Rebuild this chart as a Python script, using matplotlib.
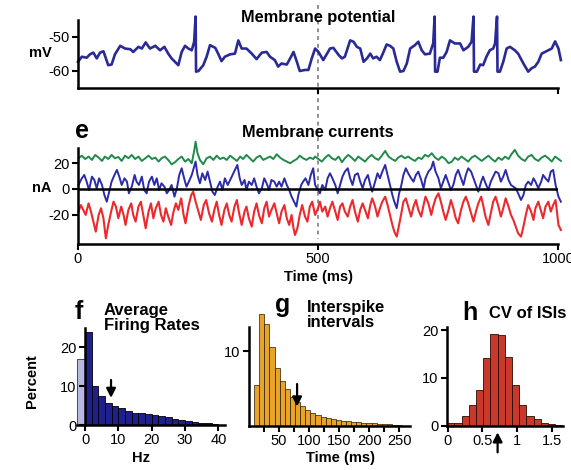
import matplotlib
matplotlib.use('Agg')
import matplotlib.pyplot as plt
from matplotlib.lines import Line2D

plt.rcParams['font.family'] = ['Liberation Sans', 'DejaVu Sans']
plt.rcParams['font.size'] = 10
plt.rcParams['axes.unicode_minus'] = False

# membrane potential (ms, mV)
t_vm = [0, 8, 18, 25, 32, 39, 46, 53, 63, 70, 77, 88, 98, 109, 115, 126, 133, 141, 150, 161,
        171, 180, 188, 195, 202, 209, 216, 223, 230, 237, 242, 245, 246, 251, 261, 268, 275, 286, 292, 299,
        306, 317, 327, 334, 341, 351, 362, 372, 383, 393, 400, 410, 417, 424, 435, 442, 449, 456, 462, 473,
        480, 487, 494, 501, 511, 525, 532, 543, 550, 556, 567, 574, 581, 588, 595, 602, 609, 615, 622, 629,
        636, 643, 650, 657, 664, 671, 678, 685, 692, 702, 709, 716, 723, 733, 740, 743, 744, 749, 754, 761,
        768, 775, 785, 796, 803, 813, 820, 824, 825, 831, 838, 844, 851, 858, 865, 869, 873, 874, 879, 886,
        893, 900, 910, 917, 928, 938, 945, 952, 959, 966, 973, 980, 987, 994, 1001, 1006]
vm = [-57.3, -55.8, -56.1, -55.1, -54.6, -56.3, -54.6, -54.2, -58.3, -58.1,
      -55.1, -52.6, -53.4, -53.6, -54.4, -52.9, -53.4, -51.6, -53.4, -52.6,
      -53.9, -52.9, -54.9, -56.3, -57.3, -58.3, -54.4, -52.6, -53.4, -53.9,
      -51.4, -44.0, -60.2, -60.0, -58.3, -55.8, -52.4, -53.2, -54.9, -57.1,
      -55.8, -55.1, -54.9, -51.0, -53.4, -53.4, -54.9, -56.5, -54.6, -54.4,
      -55.8, -56.8, -58.7, -57.8, -58.1, -56.3, -54.4, -57.3, -60.0, -59.7,
      -59.7, -56.3, -53.4, -54.4, -56.8, -53.4, -53.2, -55.3, -56.3, -55.8,
      -51.0, -51.4, -52.9, -53.4, -57.3, -56.3, -54.9, -56.3, -55.8, -56.8,
      -54.6, -52.2, -52.6, -53.4, -57.3, -60.2, -60.0, -57.8, -53.4, -52.4,
      -51.4, -53.9, -55.1, -54.9, -51.9, -44.0, -60.2, -60.2, -56.1, -56.1,
      -54.4, -51.0, -51.9, -51.9, -53.9, -52.9, -51.4, -44.0, -60.2, -60.2,
      -58.1, -58.3, -55.8, -53.9, -53.4, -51.9, -44.0, -60.2, -60.2, -57.3,
      -53.4, -52.9, -53.9, -54.9, -57.8, -60.2, -59.2, -58.7, -57.3, -54.9,
      -54.4, -53.9, -53.4, -51.3, -53.4, -56.8]

# membrane currents (ms, nA)
t_green = [1, 8, 15, 22, 29, 36, 43, 50, 56, 63, 70, 77, 84, 91, 98, 105, 112, 119, 126, 133,
           140, 147, 154, 161, 168, 174, 181, 188, 195, 202, 209, 216, 223, 230, 237, 242, 245, 249, 254, 261,
           268, 275, 282, 289, 296, 303, 310, 317, 324, 331, 338, 344, 351, 358, 365, 372, 379, 386, 393, 400,
           407, 414, 421, 428, 435, 442, 449, 456, 462, 469, 476, 483, 490,
           494, 501, 508, 515, 522, 529, 536, 543, 550, 556, 563, 570, 577, 584, 591, 598, 605, 612, 619, 626,
           633, 640, 647, 654, 661, 667, 674, 681, 688, 695, 702, 709, 716, 723, 730, 737, 744, 751, 758, 765,
           772, 779, 785, 792, 799, 806, 813, 820, 827, 834, 841, 848, 855, 862, 869, 876, 883, 890, 897, 903,
           910, 917, 924, 931, 938, 945, 952, 959, 966, 973, 980, 987, 994, 1001, 1006]
i_green = [23.9, 25.9, 23.3, 25.2, 22.6, 26.5, 24.4, 21.8, 25.2, 23.3, 26.5, 23.9, 24.9, 21.8, 25.9, 23.9, 26.5, 23.3, 25.2, 21.8,
           23.9, 25.9, 23.3, 24.4, 21.3, 23.9, 25.2, 22.6, 19.2, 20.8, 23.3, 25.2, 21.3, 23.3, 20.0, 29.6, 36.8, 27.8, 22.6, 19.2,
           23.9, 25.2, 22.6, 25.9, 23.3, 24.4, 22.6, 25.9, 23.9, 21.8, 25.2, 23.3, 26.5, 23.9, 21.3, 24.4, 25.9, 22.6, 23.9, 25.2,
           23.3, 27.0, 24.4, 22.6, 21.3, 20.0, 21.8, 23.3, 25.9, 23.9, 22.6, 24.4, 23.3,
           25.2, 23.3, 21.3, 24.4, 26.5, 23.9, 22.6, 25.2, 20.8, 23.9, 26.5, 24.4, 21.8, 25.2, 23.3, 21.3, 24.4, 26.5, 23.9, 22.6,
           25.9, 29.6, 25.2, 23.3, 21.8, 24.4, 25.9, 23.9, 25.2, 23.3, 21.8, 24.4, 23.3, 26.5, 25.2, 27.8, 24.4, 22.6, 25.2, 23.3,
           20.0, 21.3, 24.4, 22.6, 25.2, 23.3, 21.3, 24.4, 25.9, 23.9, 21.8, 23.9, 25.9, 23.3, 21.3, 24.4, 22.6, 25.2, 23.3, 27.0,
           30.4, 25.9, 23.3, 21.8, 25.2, 26.5, 23.3, 21.8, 24.4, 25.9, 23.9, 21.3, 25.2, 23.3, 21.8]

t_right = [494, 500, 504, 509, 515, 520, 525, 530, 536, 541, 546, 551, 556, 562, 567, 572, 577, 583, 588, 593,
           598, 604, 609, 613, 619, 624, 629, 634, 640, 645, 650, 655, 659, 664, 669, 673, 678, 683, 688, 694,
           699, 704, 709, 715, 720, 724, 730, 736, 740, 745, 751, 756, 761, 766, 772, 777, 782, 787, 792, 798,
           803, 808, 813, 819, 824, 829, 834, 840, 844, 849, 855, 860, 865, 870, 876, 881, 886, 891, 897, 902,
           907, 912, 917, 923, 928, 933, 938, 944, 949, 953, 959, 965, 969, 974, 980, 985, 990, 995, 1001, 1006]

t_blue = [1, 8, 13, 18, 23, 29, 34, 39, 44, 50, 55, 60, 65, 70, 76, 81, 86, 91, 97, 102,
          106, 112, 118, 122, 127, 133, 138, 143, 148, 154, 159, 164, 169, 174, 180, 185, 190, 195, 201, 206,
          211, 216, 222, 226, 231, 237, 241, 245, 249, 254, 259, 265, 270, 275, 280, 285, 291, 296, 301, 306,
          312, 317, 322, 327, 332, 337, 341, 347, 351, 356, 362, 367, 372, 377, 383, 388, 393, 398, 403, 409,
          414, 419, 424, 430, 435, 440, 445, 450, 455, 459, 465, 469, 474, 480, 485, 490] + t_right
i_blue = [3.1, 8.3, 10.9, 5.7, -0.8, 9.6, 7.0, 0.5, 8.3, 3.1, -4.7, -9.9, -2.1, 5.7, 10.9, 14.8, 9.6, 3.1, 8.3, 5.7,
          -3.4, 1.8, 10.9, 5.7, 3.1, 9.6, -0.8, -3.4, 5.7, 9.6, 3.1, 8.3, -0.8, 4.4, 1.8, -3.4, -0.8, 3.1, -6.0, 0.5,
          10.9, 16.1, 7.0, 1.8, 5.7, 10.9, 16.1, 21.3, 10.9, 4.4, 12.2, 7.0, 13.5, 5.7, -2.1, -4.7, 1.8, 5.7, -0.8, 8.3,
          3.1, 7.0, 10.9, 14.8, 18.7, 8.3, 3.1, 7.0, -0.8, 5.7, 3.1, 8.3, 1.8, -3.4, 0.5, 8.3, 4.4, -0.8, 7.0, 5.7,
          1.8, 5.7, 1.8, 8.3, 3.1, -0.8, -6.0, -9.9, -13.7, -4.7, 3.1, 5.7, 8.3, 3.1, 10.9, 16.1,
          3.1, -0.8, -3.4, 3.1, -0.8, 8.3, 12.2, 8.3, 3.1, -3.4, 3.1, 9.6, 13.5, 16.1, 8.3, 3.1, 10.9, 12.2, 5.7, 0.5,
          7.0, 10.9, 3.1, -2.1, 5.7, 12.2, 8.3, 13.5, 18.7, 10.9, 3.1, -4.7, -9.9, -15.0, -3.4, 1.8, 10.9, 16.1, 12.2, 8.3,
          5.7, 10.9, 13.5, 7.0, 0.5, 8.3, 13.5, 16.1, 21.3, 13.5, 8.3, 0.5, 5.7, 10.9, 4.4, -0.8, 3.1, 10.9, 14.8, 8.3,
          3.1, 10.9, 16.1, 13.5, 8.3, 3.1, -2.1, 5.7, 9.6, 4.4, -0.8, 5.7, 9.6, 13.5, 12.2, 5.7, 9.6, 14.8, 7.0, 3.1,
          1.8, 0.5, -3.4, -8.6, -4.7, 3.1, 5.7, 3.1, 8.3, 5.7, 0.5, 5.7, 10.9, 8.3, 5.7, 13.5, 14.8, 3.1, -6.0, -9.9]

t_red = [1, 6, 11, 16, 22, 27, 32, 37, 43, 48, 53, 58, 63, 69, 74, 79, 84, 90, 95, 99,
         105, 111, 115, 120, 126, 131, 136, 141, 147, 152, 157, 162, 168, 173, 178, 183, 188, 194, 199, 204,
         209, 215, 220, 224, 230, 236, 240, 245, 251, 256, 262, 267, 273, 279, 284, 289, 294, 299, 305, 310,
         315, 320, 326, 331, 335, 341, 347, 351, 356, 362, 367, 372, 377, 383, 388, 393, 398, 403, 409, 414,
         419, 424, 430, 435, 440, 445, 449, 452, 457, 462, 467, 473, 478, 483, 488] + t_right
i_red = [-17.6, -12.5, -16.3, -20.2, -11.2, -17.6, -25.4, -33.2, -20.2, -15.0, -22.8, -38.4, -28.0, -17.6, -9.9, -13.7, -22.8, -13.7, -20.2, -28.0,
         -16.3, -11.2, -20.2, -25.4, -13.7, -9.9, -20.2, -30.6, -17.6, -11.2, -22.8, -15.0, -9.9, -20.2, -25.4, -15.0, -21.5, -28.0, -17.6, -11.2,
         -16.3, -7.3, -20.2, -26.7, -13.7, -4.7, -2.1, -9.9, -17.6, -24.1, -12.5, -8.6, -18.9, -25.4, -16.3, -9.9, -20.2, -28.0, -16.3, -11.2,
         -20.2, -25.4, -13.7, -8.6, -17.6, -28.0, -17.6, -13.7, -22.8, -29.3, -17.6, -11.2, -20.2, -26.7, -15.0, -9.9, -21.5, -16.3, -11.2, -18.9,
         -26.7, -17.6, -12.5, -22.8, -28.0, -20.2, -30.6, -35.8, -30.6, -20.2, -12.5, -21.5, -25.4, -13.7, -9.9,
         -20.2, -15.0, -9.9, -17.6, -13.7, -21.5, -15.0, -9.9, -17.6, -24.1, -13.7, -11.2, -17.6, -21.5, -13.7, -8.6, -17.6, -25.4, -16.3, -11.2,
         -16.3, -22.8, -12.5, -7.3, -13.7, -21.5, -15.0, -9.9, -6.0, -12.5, -20.2, -28.0, -33.2, -37.1, -28.0, -20.2, -9.9, -7.3, -13.7, -21.5,
         -13.7, -8.6, -16.3, -21.5, -12.5, -6.0, -11.2, -20.2, -13.7, -7.3, -3.4, -9.9, -17.6, -24.1, -16.3, -8.6, -15.0, -22.8, -26.7, -16.3,
         -9.9, -6.0, -11.2, -18.9, -25.4, -17.6, -11.2, -6.0, -12.5, -21.5, -28.0, -18.9, -9.9, -6.0, -13.7, -21.5, -15.0, -7.3, -13.7, -20.2,
         -24.1, -29.3, -34.5, -37.1, -29.3, -20.2, -12.5, -17.6, -24.1, -15.0, -9.9, -17.6, -22.8, -13.7, -9.9, -17.6, -12.5, -8.6, -28.0, -31.9]

# f: average firing rates (Hz bins, percent)
f_silent = 16.9
f_left = [0, 2, 4, 6, 8, 10, 12, 14, 16, 18, 20, 22, 24, 26, 28, 30, 32, 34, 36, 38]
f_pct = [24.0, 10.0, 7.5, 5.8, 4.9, 4.3, 3.7, 3.2, 3.0, 2.8, 2.6, 2.3, 2.0, 1.5, 1.3, 1.0, 0.9, 0.6, 0.4, 0.3]
f_mean = 7.8

# g: interspike intervals (ms bins, percent)
g_left = [8.5, 17, 25.5, 34, 42.5, 51, 59.5, 68, 76.5, 85, 93.5, 102, 110.5, 119, 127.5,
          136, 144.5, 153, 161.5, 170, 178.5, 187, 195.5, 204, 212.5, 221, 229.5, 238, 246.5]
g_pct = [5.5, 14.9, 13.6, 10.6, 7.8, 6.0, 4.9, 3.9, 3.2, 2.7, 2.2, 1.8, 1.5, 1.25, 1.05,
         0.93, 0.8, 0.7, 0.62, 0.53, 0.49, 0.44, 0.4, 0.35, 0.3, 0.27, 0.22, 0.2, 0.18]
g_mean = 80

# h: CV of ISIs
h_left = [-0.008, 0.096, 0.2, 0.304, 0.408, 0.512, 0.616, 0.72, 0.824, 0.928, 1.032, 1.136, 1.24, 1.344, 1.448, 1.552]
h_pct = [0.5, 0.5, 2.0, 4.3, 7.5, 14.1, 19.3, 19.1, 14.4, 8.5, 4.3, 2.1, 1.5, 0.5, 0.3, 0.1]
h_mean = 0.72

fig = plt.figure(figsize=(5.71, 4.70), dpi=100)

ARROW = dict(arrowstyle='-|>,head_length=0.55,head_width=0.28', color='black', lw=1.6,
             shrinkA=0, shrinkB=0)


def style(ax):
    for s in ['top', 'right']:
        ax.spines[s].set_visible(False)
    for s in ['left', 'bottom']:
        ax.spines[s].set_linewidth(1.8)
    ax.tick_params(direction='out', length=4, width=1.5, labelsize=10.5, pad=2)
    ax.patch.set_alpha(0)


# membrane potential
ax_v = fig.add_axes([0.1366, 0.8128, 0.8406, 0.1447])
style(ax_v)
ax_v.plot(t_vm, vm, color='#2a2a96', lw=1.9, clip_on=False)
ax_v.set_xlim(0, 1000)
ax_v.set_ylim(-65, -45)
ax_v.set_yticks([-60, -50])
ax_v.set_xticks([500, 1000])
ax_v.set_xticklabels([])

# membrane currents
ax_i = fig.add_axes([0.1366, 0.4809, 0.8406, 0.2043])
style(ax_i)
ax_i.plot(t_green, i_green, color='#1f8a4a', lw=1.4, clip_on=False)
ax_i.plot(t_blue, i_blue, color='#2b2baa', lw=1.4, clip_on=False)
ax_i.plot(t_red, i_red, color='#ec2a2e', lw=1.5, clip_on=False)
ax_i.axhline(0, color='black', lw=1.8, zorder=3)
ax_i.set_xlim(0, 1000)
ax_i.set_ylim(-42.8, 31.9)
ax_i.set_yticks([-20, 0, 20])
ax_i.set_xticks([0, 500, 1000])

# dashed line at 500 ms across both traces
pv = ax_v.get_position()
pi = ax_i.get_position()
xf = pv.x0 + pv.width * 0.5
fig.add_artist(Line2D([xf, xf], [0.989, pi.y0 + 0.01], transform=fig.transFigure,
                      color='#909090', lw=1.4, ls=(0, (2, 2)), zorder=0))

fig.text(0.557, 0.962, 'Membrane potential', ha='center', va='center', fontsize=11.8, fontweight='bold')
fig.text(0.070, 0.887, 'mV', ha='center', va='center', fontsize=10.5, fontweight='bold')
fig.text(0.1436, 0.722, 'e', ha='center', va='center', fontsize=18, fontweight='bold')
fig.text(0.557, 0.719, 'Membrane currents', ha='center', va='center', fontsize=11.8, fontweight='bold')
fig.text(0.0735, 0.600, 'nA', ha='center', va='center', fontsize=10.5, fontweight='bold')
fig.text(0.557, 0.411, 'Time (ms)', ha='center', va='center', fontsize=10.5, fontweight='bold')

# f histogram
ax_f = fig.add_axes([0.1349, 0.0957, 0.2592, 0.2064])
style(ax_f)
ax_f.bar([-2.4], [f_silent], width=2.4, align='edge', color='#b9b8e0', edgecolor='#333', lw=0.6)
ax_f.bar(f_left, f_pct, width=2, align='edge', color='#20208c', edgecolor='black', lw=0.6)
ax_f.spines['left'].set_position(('data', 0))
ax_f.set_xlim(-2.4, 42)
ax_f.set_ylim(0, 25)
ax_f.set_xticks([0, 10, 20, 30, 40])
ax_f.set_yticks([0, 10, 20])
ax_f.annotate('', xy=(f_mean, 7.0), xytext=(f_mean, 11.6), arrowprops=ARROW)

fig.text(0.138, 0.336, 'f', ha='center', va='center', fontsize=18, fontweight='bold')
fig.text(0.182, 0.323, 'Average\nFiring Rates', ha='left', va='center', fontsize=12,
         fontweight='bold', linespacing=1.0)
fig.text(0.056, 0.190, 'Percent', ha='center', va='center', rotation=90, fontsize=10.5, fontweight='bold')
fig.text(0.247, 0.026, 'Hz', ha='center', va='center', fontsize=10.5, fontweight='bold')

# g histogram
ax_g = fig.add_axes([0.4361, 0.0936, 0.2820, 0.2106])
style(ax_g)
ax_g.bar(g_left, g_pct, width=8.5, align='edge', color='#e8a42a', edgecolor='#2a1a00', lw=0.5, clip_on=False)
ax_g.set_xlim(0, 268)
ax_g.set_ylim(0, 13.2)
ax_g.set_xticks([50, 100, 150, 200, 250])
ax_g.set_xticks([25, 75, 125, 175, 225], minor=True)
ax_g.tick_params(which='minor', direction='out', length=4, width=1.5)
ax_g.set_yticks([10])
ax_g.annotate('', xy=(g_mean, 2.6), xytext=(g_mean, 5.6), arrowprops=ARROW)

fig.text(0.4956, 0.352, 'g', ha='center', va='center', fontsize=18, fontweight='bold')
fig.text(0.5377, 0.330, 'Interspike\nintervals', ha='left', va='center', fontsize=12,
         fontweight='bold', linespacing=1.0)
fig.text(0.596, 0.026, 'Time (ms)', ha='center', va='center', fontsize=10.5, fontweight='bold')

# h histogram
ax_h = fig.add_axes([0.7823, 0.0943, 0.2044, 0.2100])
style(ax_h)
ax_h.bar(h_left, h_pct, width=0.104, align='edge', color='#c8392c', edgecolor='#2a0a00', lw=0.6)
ax_h.set_xlim(-0.015, 1.67)
ax_h.set_ylim(0, 20.7)
ax_h.set_xticks([0, 0.5, 1, 1.5])
ax_h.set_xticklabels(['0', '0.5', '1', '1.5'])
ax_h.set_yticks([0, 10, 20])
ax_h.annotate('', xy=(h_mean, -1.4), xytext=(h_mean, -5.6), annotation_clip=False, arrowprops=ARROW)

fig.text(0.823, 0.334, 'h', ha='center', va='center', fontsize=18, fontweight='bold')
fig.text(0.925, 0.334, 'CV of ISIs', ha='center', va='center', fontsize=12, fontweight='bold')

fig.savefig('out.png', dpi=100)
